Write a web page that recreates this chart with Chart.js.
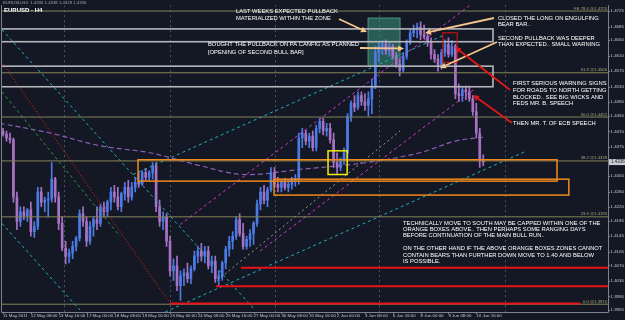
<!DOCTYPE html>
<html><head><meta charset="utf-8">
<script src="https://cdn.jsdelivr.net/npm/chart.js@4/dist/chart.umd.min.js"></script>
<style>html,body{margin:0;padding:0;background:#131824;}#wrap{width:625px;height:320px;}</style>
</head><body><div id="wrap"><canvas id="c" width="625" height="320"></canvas></div>
<script>
// ---- Data (EURUSD H4, 11 May 2011 - 10 Jun 2011), bar index = position ----
const opens = [1.4416,1.4408,1.4398,1.4393,1.4246,1.4183,1.4208,1.4198,1.4213,1.4157,
1.4170,1.4259,1.4233,1.4238,1.4241,1.4292,1.4246,1.4178,1.4114,1.4094,
1.4102,1.4119,1.4140,1.4203,1.4183,1.4132,1.4170,1.4188,1.4178,1.4221,
1.4208,1.4233,1.4259,1.4246,1.4221,1.4254,1.4271,1.4246,1.4271,1.4284,
1.4279,1.4309,1.4297,1.4309,1.4327,1.4221,1.4183,1.4195,1.4132,1.4056,
1.4069,1.4018,1.4043,1.4051,1.4036,1.4061,1.4094,1.4107,1.4094,1.4107,
1.4069,1.4081,1.4036,1.4043,1.4076,1.4112,1.4132,1.4145,1.4188,1.4152,
1.4119,1.4137,1.4152,1.4178,1.4228,1.4259,1.4238,1.4264,1.4309,1.4279,
1.4271,1.4284,1.4271,1.4279,1.4289,1.4294,1.4398,1.4411,1.4390,1.4403,
1.4373,1.4423,1.4441,1.4416,1.4423,1.4393,1.4335,1.4322,1.4340,1.4360,
1.4454,1.4487,1.4477,1.4507,1.4492,1.4482,1.4499,1.4532,1.4618,1.4634,
1.4639,1.4623,1.4634,1.4608,1.4588,1.4573,1.4608,1.4644,1.4669,1.4679,
1.4684,1.4664,1.4659,1.4644,1.4613,1.4601,1.4583,1.4618,1.4639,1.4613,
1.4634,1.4512,1.4507,1.4522,1.4517,1.4499,1.4466,1.4411,1.4340];
const highs = [1.4423,1.4416,1.4411,1.4398,1.4259,1.4221,1.4221,1.4216,1.4233,1.4183,
1.4271,1.4271,1.4246,1.4259,1.4335,1.4297,1.4259,1.4195,1.4132,1.4112,
1.4132,1.4145,1.4213,1.4221,1.4195,1.4183,1.4195,1.4221,1.4228,1.4233,
1.4238,1.4271,1.4276,1.4271,1.4259,1.4284,1.4289,1.4284,1.4297,1.4309,
1.4314,1.4320,1.4314,1.4335,1.4335,1.4238,1.4208,1.4203,1.4145,1.4087,
1.4094,1.4056,1.4061,1.4076,1.4069,1.4107,1.4119,1.4127,1.4119,1.4119,
1.4094,1.4094,1.4056,1.4081,1.4119,1.4145,1.4157,1.4195,1.4203,1.4178,
1.4145,1.4162,1.4183,1.4238,1.4271,1.4276,1.4271,1.4322,1.4322,1.4297,
1.4289,1.4294,1.4289,1.4297,1.4304,1.4411,1.4423,1.4418,1.4411,1.4416,
1.4431,1.4449,1.4449,1.4436,1.4436,1.4411,1.4360,1.4347,1.4373,1.4461,
1.4494,1.4507,1.4517,1.4517,1.4512,1.4517,1.4550,1.4634,1.4644,1.4649,
1.4651,1.4644,1.4639,1.4618,1.4601,1.4618,1.4651,1.4677,1.4689,1.4694,
1.4697,1.4689,1.4669,1.4656,1.4626,1.4613,1.4626,1.4651,1.4656,1.4649,
1.4639,1.4537,1.4532,1.4532,1.4532,1.4507,1.4487,1.4423,1.4355];
const lows = [1.4403,1.4390,1.4385,1.4233,1.4162,1.4170,1.4188,1.4183,1.4145,1.4142,
1.4162,1.4221,1.4208,1.4195,1.4233,1.4233,1.4162,1.4107,1.4074,1.4076,
1.4087,1.4107,1.4132,1.4170,1.4119,1.4124,1.4145,1.4162,1.4170,1.4195,
1.4195,1.4213,1.4233,1.4213,1.4208,1.4238,1.4233,1.4238,1.4259,1.4271,
1.4276,1.4289,1.4289,1.4292,1.4208,1.4170,1.4162,1.4119,1.4043,1.4031,
1.4005,1.3980,1.4018,1.4026,1.4023,1.4056,1.4076,1.4081,1.4076,1.4061,
1.4051,1.4026,1.4018,1.4031,1.4061,1.4094,1.4112,1.4137,1.4145,1.4112,
1.4112,1.4119,1.4124,1.4170,1.4213,1.4228,1.4221,1.4259,1.4271,1.4259,
1.4259,1.4264,1.4259,1.4266,1.4274,1.4279,1.4373,1.4380,1.4373,1.4365,
1.4365,1.4411,1.4406,1.4403,1.4385,1.4322,1.4304,1.4314,1.4330,1.4347,
1.4441,1.4466,1.4471,1.4482,1.4469,1.4454,1.4461,1.4525,1.4596,1.4613,
1.4613,1.4608,1.4601,1.4580,1.4558,1.4568,1.4601,1.4639,1.4659,1.4656,
1.4651,1.4654,1.4634,1.4601,1.4593,1.4570,1.4575,1.4608,1.4606,1.4608,
1.4499,1.4492,1.4492,1.4497,1.4492,1.4456,1.4398,1.4322,1.4327];
const closes = [1.4408,1.4398,1.4393,1.4246,1.4183,1.4208,1.4198,1.4213,1.4157,1.4170,
1.4259,1.4233,1.4238,1.4241,1.4292,1.4246,1.4178,1.4114,1.4094,1.4102,
1.4119,1.4140,1.4203,1.4183,1.4132,1.4170,1.4188,1.4178,1.4221,1.4208,
1.4233,1.4259,1.4246,1.4221,1.4254,1.4271,1.4246,1.4271,1.4284,1.4279,
1.4309,1.4297,1.4309,1.4327,1.4221,1.4183,1.4195,1.4132,1.4056,1.4069,
1.4018,1.4043,1.4051,1.4036,1.4061,1.4094,1.4107,1.4094,1.4107,1.4069,
1.4081,1.4036,1.4043,1.4076,1.4112,1.4132,1.4145,1.4188,1.4152,1.4119,
1.4137,1.4152,1.4178,1.4228,1.4259,1.4238,1.4264,1.4309,1.4279,1.4271,
1.4284,1.4271,1.4279,1.4289,1.4294,1.4398,1.4411,1.4390,1.4403,1.4373,
1.4423,1.4441,1.4416,1.4423,1.4393,1.4335,1.4322,1.4340,1.4360,1.4454,
1.4487,1.4477,1.4507,1.4492,1.4482,1.4499,1.4532,1.4618,1.4634,1.4639,
1.4623,1.4634,1.4608,1.4588,1.4573,1.4608,1.4644,1.4669,1.4679,1.4684,
1.4664,1.4659,1.4644,1.4613,1.4601,1.4583,1.4618,1.4639,1.4613,1.4634,
1.4512,1.4507,1.4522,1.4517,1.4499,1.4466,1.4411,1.4340,1.4336];

const xTickBars = [0,8,16,24,32,40,48,56,64,72,80,88,96,104,112,120,128,136];
const xTickLabels = ["11 May 2011","12 May 08:00","13 May 16:00","17 May 00:00","18 May 08:00","19 May 16:00","23 May 00:00","24 May 08:00","25 May 16:00","27 May 00:00","30 May 08:00","31 May 16:00","2 Jun 00:00","3 Jun 08:00","6 Jun 16:00","8 Jun 00:00","9 Jun 08:00","10 Jun 16:00"];
const yTickLabels = ["1.4725","1.4685","1.4650","1.4610","1.4570","1.4530","1.4490","1.4455","1.4415","1.4375","1.4300","1.4260","1.4220","1.4185","1.4145","1.4105","1.4070","1.4030","1.3990","1.3955"];

// Moving average (purple dashed), sampled along the curve
const maBars = [-1,13.5,27.9,42.2,56.6,69,85.3,104.6,119.8,129.9,138];
const maValues = [1.4436,1.4411,1.4378,1.4360,1.4327,1.4304,1.4317,1.4335,1.4360,1.4390,1.4400];

// Fibonacci expansion levels
const fibNames = ["FE 78.6","61.8","50.0","38.2","23.6","0.0"];
const fibPrices = [1.4725,1.4566,1.4452,1.4339,1.4195,1.3970];

// Support lines (red)
const supportPrices = [1.4064,1.4016,1.3972];
const supportFromBar = [68.4,61.2,48];
const supportToBar = [176,176,165.8];

const BLUE = '#4d7be6', PURP = '#a872c4';
const idx = closes.map((_, i) => i);
const candleColors = idx.map(i => closes[i] >= opens[i] ? BLUE : PURP);

const drawings = {
  id: 'mt4',
  beforeDraw(chart) {
    const c = chart.ctx;
    c.save(); c.fillStyle = '#131824'; c.fillRect(0, 0, chart.width, chart.height); c.restore();
  },
  beforeDatasetsDraw(chart) {
    const c = chart.ctx, a = chart.chartArea, sx = chart.scales.x, sy = chart.scales.y;
    const X = v => sx.getPixelForValue(v), Y = v => sy.getPixelForValue(v);
    c.save();
    c.beginPath(); c.rect(a.left, a.top, a.right - a.left, a.bottom - a.top); c.clip();
    // weekly separators
    c.strokeStyle = '#4b5262'; c.lineWidth = 1; c.setLineDash([2, 3]);
    [17.5, 48, 78.2, 108.1, 144.3].forEach(b => { const x = Math.round(X(b)) + 0.5; c.beginPath(); c.moveTo(x, a.top); c.lineTo(x, a.bottom); c.stroke(); });
    c.setLineDash([]);
    // green zone (filled)
    c.fillStyle = 'rgba(62,150,128,0.55)';
    c.fillRect(X(104.9), Y(1.4707), X(114.1) - X(104.9), Y(1.4583) - Y(1.4707));
    c.strokeStyle = 'rgba(90,170,150,0.8)'; c.lineWidth = 1;
    c.strokeRect(X(104.9), Y(1.4707), X(114.1) - X(104.9), Y(1.4583) - Y(1.4707));
    c.restore();
  },
  afterDatasetsDraw(chart) {
    const c = chart.ctx, a = chart.chartArea, sx = chart.scales.x, sy = chart.scales.y;
    const X = v => sx.getPixelForValue(v), Y = v => sy.getPixelForValue(v);
    const seg = (b0, p0, b1, p1, col, w, dash) => { c.strokeStyle = col; c.lineWidth = w; c.setLineDash(dash || []); c.beginPath(); c.moveTo(X(b0), Y(p0)); c.lineTo(X(b1), Y(p1)); c.stroke(); c.setLineDash([]); };
    const box = (b0, p0, b1, p1, col, w) => { c.strokeStyle = col; c.lineWidth = w; c.setLineDash([]); c.strokeRect(X(b0), Y(p0), X(b1) - X(b0), Y(p1) - Y(p0)); };
    c.save();
    c.beginPath(); c.rect(a.left, a.top, a.right - a.left, a.bottom - a.top); c.clip();
    // trend lines / channels
    const cyan = '#1fb0c2', mag = '#d23ad2';
    seg(-0.3, 1.4677, 72.4, 1.3955, cyan, 1, [3, 3]);
    seg(-0.3, 1.4178, 22.1, 1.3955, cyan, 1, [3, 3]);
    seg(37.4, 1.4304, 127, 1.4664, cyan, 1, [3, 3]);
    seg(46.6, 1.3950, 150, 1.4363, cyan, 1, [3, 3]);
    seg(-0.9, 1.4601, 48, 1.3972, '#c01c1c', 1.2, [1, 2]);
    seg(-0.3, 1.4517, 33.6, 1.4145, '#2e9e34', 1, [3, 3]);
    seg(50.9, 1.4175, 134.2, 1.4740, mag, 1, [3, 3]);
    seg(73.9, 1.4107, 135.6, 1.4525, mag, 1, [3, 3]);
    seg(61.5, 1.4031, 114.1, 1.4416, '#9c9ca4', 1, [2, 3]);
    // fibonacci levels
    fibPrices.forEach(p => seg(-2, p, 180, p, '#86845a', 1));
    // gray zones
    box(-5, 1.4679, 140.8, 1.4646, '#b4b6bb', 1.6);
    box(-5, 1.4583, 140.8, 1.4530, '#b4b6bb', 1.6);
    // orange boxes
    box(38.8, 1.4342, 159.2, 1.4287, '#f08a1c', 1.5);
    box(77.9, 1.4292, 162.6, 1.4251, '#f08a1c', 1.5);
    // yellow box
    box(93.4, 1.4365, 98.9, 1.4304, '#f2ee10', 1.5);
    // red box
    box(126.4, 1.4669, 130.5, 1.4593, '#e01414', 1);
    // support lines
    supportPrices.forEach((p, k) => seg(supportFromBar[k], p, supportToBar[k], p, '#e8121a', 2));
    c.restore();

    // fib labels
    c.save();
    c.font = '4.2px "Liberation Sans", Arial, sans-serif'; c.fillStyle = '#a9a775'; c.textAlign = 'right'; c.textBaseline = 'bottom';
    fibPrices.forEach((p, k) => c.fillText(fibNames[k] + ' @' + p.toFixed(4), a.right - 1, Y(p) - 0.5));
    c.restore();

    // frame
    c.save(); c.strokeStyle = '#7d838c'; c.lineWidth = 1;
    c.beginPath(); c.moveTo(a.left - 0.5, a.top); c.lineTo(a.left - 0.5, a.bottom + 0.5); c.lineTo(a.right + 0.5, a.bottom + 0.5); c.lineTo(a.right + 0.5, a.top); c.stroke();
    // price tick marks
    yTickLabels.forEach(t => { const y = Math.round(Y(parseFloat(t))) + 0.5; c.beginPath(); c.moveTo(a.right, y); c.lineTo(a.right + 2, y); c.stroke(); });
    xTickBars.forEach(b => { const x = Math.round(X(b)) + 0.5; c.beginPath(); c.moveTo(x, a.bottom); c.lineTo(x, a.bottom + 2); c.stroke(); });
    // current price box
    const last = closes[closes.length - 1], yl = Y(last);
    c.fillStyle = '#c9ccd2'; c.fillRect(a.right + 1, yl - 3, 17, 6);
    c.fillStyle = '#20242c'; c.font = '4.5px "Liberation Sans", Arial, sans-serif'; c.textBaseline = 'middle'; c.textAlign = 'left';
    c.fillText(last.toFixed(4), a.right + 3, yl);
    c.restore();

    // titles
    c.save();
    c.textBaseline = 'middle'; c.textAlign = 'left';
    c.fillStyle = '#9ea3ab'; c.font = '4.3px "Liberation Sans", Arial, sans-serif';
    c.fillText('EURUSD,H4  1.4336 1.4338 1.4328 1.4336', 3, 3);
    c.fillStyle = '#ffffff'; c.font = 'bold 6px "Liberation Sans", Arial, sans-serif';
    c.fillText('EURUSD - H4', 4, 10.5);

    // annotation texts
    c.font = '5.8px "Liberation Sans", Arial, sans-serif'; c.fillStyle = '#ffffff';
    const T = (s, x, y) => c.fillText(s, x, y);
    T('LAST WEEKS EXPECTED PULLBACK', 236, 11);
    T('MATERIALIZED WITHIN THE ZONE', 236, 18);
    T('BOUGHT THE PULLBACK ON PA CANFIG AS PLANNED', 208, 44.5);
    T('[OPENING OF SECOND BULL BAR]', 208, 52);
    T('CLOSED THE LONG ON ENGULFING', 498, 18);
    T('BEAR BAR..', 498, 24.5);
    T('SECOND PULLBACK WAS DEEPER', 498, 38);
    T('THAN EXPECTED.. SMALL WARNING', 498, 44.5);
    T('FIRST SERIOUS WARNING SIGNS', 513, 83);
    T('FOR ROADS TO NORTH GETTING', 513, 90);
    T('BLOCKED.. SEE BIG WICKS AND', 513, 97);
    T('FEDS MR. B. SPEECH', 513, 103.5);
    T('THEN MR. T. OF ECB SPEECH', 513, 123);
    T('TECHNICALLY MOVE TO SOUTH MAY BE CAPPED WITHIN ONE OF THE', 403, 223);
    T('ORANGE BOXES ABOVE.. THEN PERHAPS SOME RANGING DAYS', 403, 229);
    T('BEFORE CONTINUATION OF THE MAIN BULL RUN..', 403, 235.5);
    T('ON THE OTHER HAND IF THE ABOVE ORANGE BOXES ZONES CANNOT', 403, 248);
    T('CONTAIN BEARS THAN FURTHER DOWN MOVE TO 1.40 AND BELOW', 403, 255);
    T('IS POSSIBLE.', 403, 261.5);

    // arrows
    const arrow = (x1, y1, x2, y2, col) => {
      c.strokeStyle = col; c.fillStyle = col; c.lineWidth = 1.8;
      const ang = Math.atan2(y2 - y1, x2 - x1), L = 6, W = 3;
      const bx = x2 - L * Math.cos(ang), by = y2 - L * Math.sin(ang);
      c.beginPath(); c.moveTo(x1, y1); c.lineTo(bx, by); c.stroke();
      c.beginPath(); c.moveTo(x2, y2);
      c.lineTo(bx + W * Math.sin(ang), by - W * Math.cos(ang));
      c.lineTo(bx - W * Math.sin(ang), by + W * Math.cos(ang));
      c.closePath(); c.fill();
    };
    const peach = '#f4c58c', red = '#e21818';
    arrow(339, 19, 367, 32, peach);
    arrow(360, 48, 404, 48.5, peach);
    arrow(494, 18, 425, 33, peach);
    arrow(497, 42, 440, 68, peach);
    arrow(510, 90, 455, 47, red);
    arrow(512, 123, 473, 95, red);
    c.restore();
  }
};

new Chart(document.getElementById('c'), {
  type: 'bar',
  data: {
    datasets: [
      { type: 'line', data: maBars.map((b, k) => ({ x: b, y: maValues[k] })), borderColor: '#8c5db4', borderWidth: 1.2, borderDash: [5, 3], pointRadius: 0, tension: 0.35, order: 5 },
      { data: idx.map(i => ({ x: i, y: [lows[i], highs[i]] })), backgroundColor: candleColors, barThickness: 1, grouped: false, order: 2 },
      { data: idx.map(i => ({ x: i, y: [Math.min(opens[i], closes[i]), Math.max(opens[i], closes[i])] })), backgroundColor: candleColors, barThickness: 2, minBarLength: 1, grouped: false, order: 1 }
    ]
  },
  options: {
    responsive: false, animation: false, events: [],
    layout: { padding: { left: 2, top: 0, right: 0, bottom: 0 } },
    plugins: { legend: { display: false }, tooltip: { enabled: false } },
    scales: {
      x: {
        type: 'linear', min: -0.287, max: 173.85, offset: false,
        grid: { display: false, drawTicks: false }, border: { display: false },
        afterBuildTicks: s => { s.ticks = xTickBars.map(v => ({ value: v })); },
        afterFit: s => { s.height = 8; },
        ticks: { autoSkip: false, maxRotation: 0, minRotation: 0, align: 'start', padding: 1.5, color: '#c3c7ce',
          font: { size: 4.4, family: '"Liberation Sans", Arial, sans-serif' },
          callback: (v, k) => xTickLabels[k] }
      },
      y: {
        position: 'right', min: 1.39499, max: 1.47402, beginAtZero: false,
        grid: { display: false, drawTicks: false }, border: { display: false },
        afterBuildTicks: s => { s.ticks = yTickLabels.map(t => ({ value: parseFloat(t) })); },
        afterFit: s => { s.width = 17; },
        ticks: { autoSkip: false, padding: 2.5, color: '#c3c7ce',
          font: { size: 4.4, family: '"Liberation Sans", Arial, sans-serif' },
          callback: (v, k) => yTickLabels[k] }
      }
    }
  },
  plugins: [drawings]
});
</script></body></html>
